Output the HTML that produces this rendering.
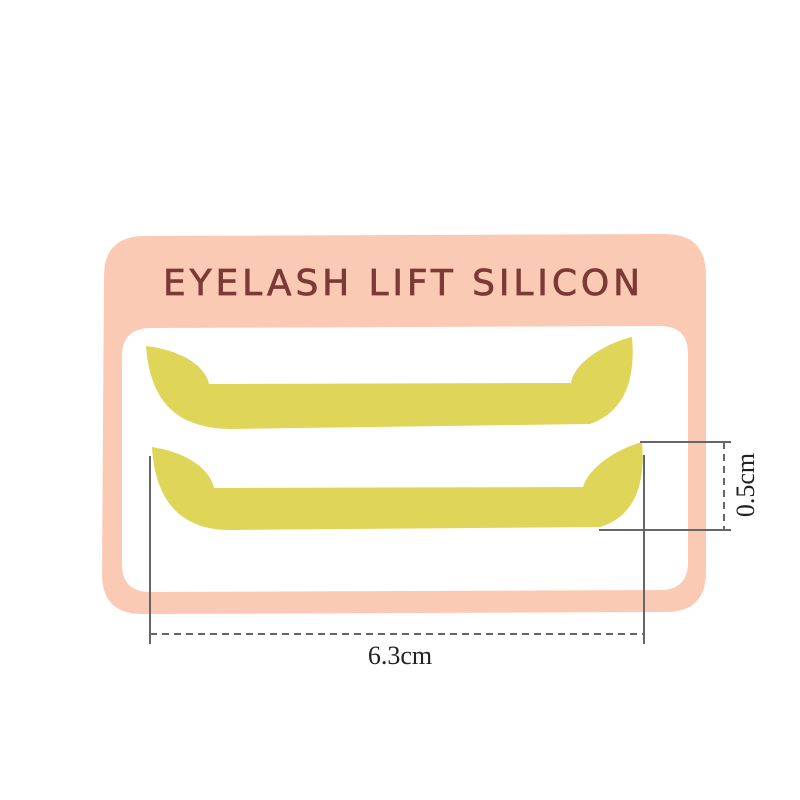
<!DOCTYPE html>
<html><head><meta charset="utf-8"><style>
html,body{margin:0;padding:0;background:#fff;}
svg{display:block;}
</style></head><body>
<svg width="800" height="800" viewBox="0 0 800 800" xmlns="http://www.w3.org/2000/svg">
<path fill-rule="evenodd" fill="#fbcab4" d="M145,236 L665,234 Q706,234 706,275 L706,572 Q706,612 666,612 L142,614 Q102,614 102,574 L104,276 Q104,236 145,236 Z M152,328 L660,326 Q688,326 688,354 L688,562 Q688,590 660,590 L150,592 Q122,592 122,564 L122,356 Q122,328 152,328 Z"/>
<text x="163" y="295" font-family="'DejaVu Sans','Liberation Sans',sans-serif" font-size="36" stroke="#7b3a36" stroke-width="0.7" fill="#7b3a36" textLength="477" lengthAdjust="spacing">EYELASH LIFT SILICON</text>
<path fill="#dfd559" d="M146,346 C180,350 205,365 209,384 L571,383 C575,360 610,342 632,337 C635,370 630,410 590,424 L230,429 C175,428 150,400 146,346 Z"/>
<path fill="#dfd559" d="M152,447 C185,452 210,468 214,488 L583,487 C590,465 620,448 642,442 C645,475 640,515 600,527 L230,530 C180,530 155,500 152,447 Z"/>
<g stroke="#666" stroke-width="2" fill="none">
<line x1="150" y1="456" x2="150" y2="644"/>
<line x1="644" y1="455" x2="644" y2="644"/>
<line x1="150" y1="634" x2="644" y2="634" stroke-dasharray="7,5"/>
<line x1="640" y1="442" x2="731" y2="442"/>
<line x1="599" y1="530" x2="731" y2="530"/>
<line x1="724" y1="442" x2="724" y2="530" stroke-dasharray="7,5"/>
</g>
<text x="400" y="664" text-anchor="middle" font-family="'Liberation Serif',serif" font-size="26" fill="#222">6.3cm</text>
<text transform="translate(754,485) rotate(-90)" text-anchor="middle" font-family="'Liberation Serif',serif" font-size="26" fill="#222">0.5cm</text>
</svg>
</body></html>
